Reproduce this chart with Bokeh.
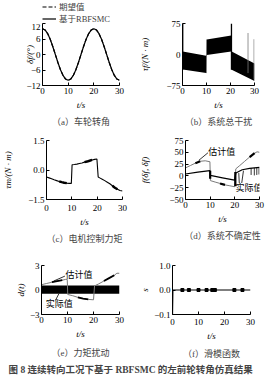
from bokeh.plotting import figure
from bokeh.layouts import column, row
from bokeh.models import Range1d, FixedTicker, Legend
from bokeh.embed import file_html
from bokeh.resources import INLINE
from bokeh.core.properties import value

SERIF = "'Liberation Serif', 'Noto Sans CJK SC'"
CJK = "'Noto Sans CJK SC'"

# ---------------- data ----------------
x_ticks = [0, 10, 20, 30]

# (a) wheel steering angle
t_a = [0, 1, 2, 3, 4, 5, 6, 7, 8, 9, 10, 11, 12, 13, 14, 15, 16, 17, 18, 19, 20,
       21, 22, 23, 24, 25, 26, 27, 28, 29, 30]
delta_ref = [10.0, 9.5, 8.1, 5.9, 3.1, 0.0, -3.1, -5.9, -8.1, -9.5, -10.0, -9.5, -8.1,
             -5.9, -3.1, 0.0, 3.1, 5.9, 8.1, 9.5, 10.0, 9.5, 8.1, 5.9, 3.1, 0.0, -3.1,
             -5.9, -8.1, -9.5, -10.0]
delta_rbf = [10.0, 9.5, 8.1, 5.9, 3.1, 0.0, -3.1, -5.9, -8.1, -9.5, -10.0, -9.5, -8.1,
             -5.9, -3.1, 0.0, 3.1, 5.9, 8.1, 9.5, 10.0, 9.5, 8.1, 5.9, 3.1, 0.0, -3.1,
             -5.9, -8.1, -9.5, -10.0]
a_ticks = [-12, -6, 0, 6, 12]
a_tick_labels = ["−12", "−6", "0", "6", "12"]
legend_labels = ["期望值", "基于RBFSMC"]

# (b) total disturbance (dense oscillation band)
t_b = [0.1, 9.9, 10.1, 20.3, 20.5, 30]
b_upper = [7, -3, 36, 46, 7, -22]
b_lower = [-36, -45, -1, 7, -37, -64]
b_spike_t = [0.1, 20.4]
b_spike_top = [75, 75]
b_spike_bot = [-36, -37]
b_thin_t = [10.0, 27.3, 29.8]
b_thin_top = [36, 52, 37]
b_thin_bot = [-45, -45, -60]
b_ticks = [-75, 0, 75]
b_tick_labels = ["−75", "0", "75"]

# (c) motor control torque
t_c = [0, 1, 2, 3, 4, 5, 6, 7, 8, 9, 9.8, 10.1, 11, 12, 13, 14, 15, 16, 17, 18, 19,
       19.9, 20.4, 21, 22, 23, 24, 25, 26, 27, 28, 29, 30]
tau_m = [-0.36, -0.4, -0.45, -0.5, -0.54, -0.58, -0.62, -0.65, -0.67, -0.68, -0.68,
         0.27, 0.28, 0.3, 0.33, 0.36, 0.4, 0.43, 0.47, 0.51, 0.54, 0.56, -0.36, -0.4,
         -0.47, -0.54, -0.62, -0.7, -0.8, -0.9, -0.98, -1.04, -1.07]
c_ticks = [-1.5, 0, 1.5]
c_tick_labels = ["−1.5", "0.0", "1.5"]

# (d) system uncertainty: estimate and actual
t_d_est = [0, 2, 4, 6, 8, 9.9, 10.1, 12, 14, 16, 18, 19.9, 20.4, 22, 24, 26, 28, 29, 30]
f_est = [17, 22, 27, 31, 32, 30, -10, -13, -16, -19, -21, -23, 15, 22, 31, 40, 48, 51, 50]
t_d_act = [0, 5, 9.9, 10.1, 15, 19.9, 20.4, 23, 26, 30]
f_act = [4, 8, 11, 1, -4, -9, 6, 13, 16, 18]
d_spike_t = [10.0, 20.2]
d_spike_top = [11, 8]
d_spike_bot = [-6, -22]
d_thin_t = [26.6, 27.9, 28.9, 29.8]
d_thin_top = [16.5, 17, 17.5, 18]
d_thin_bot = [2, 1, 2, 3]
d_ticks = [-50, -25, 0, 25, 50, 75]
d_tick_labels = ["−50", "−25", "0", "25", "50", "75"]

# (e) torque disturbance
e_band_t = [0, 30]
e_band_lo = [-0.45, -0.45]
e_band_hi = [0.55, 0.55]
t_e_est = [0, 2, 4, 6, 8, 9.3, 9.9, 10.1, 12, 14, 16, 18, 20, 20.4, 22, 24, 26, 28, 29, 30]
d_est = [0.65, 0.8, 0.95, 1.1, 1.2, 1.3, 1.3, -0.55, -0.7, -0.9, -1.05, -1.15, -1.2,
         0.5, 0.75, 1.1, 1.45, 1.8, 2.05, 2.05]
e_ticks = [-3, 0, 3]
e_tick_labels = ["−3", "0", "3"]

# (f) sliding mode function
t_f = [0, 0.15, 30]
s_val = [-0.1, 0.0, 0.0]
f_dot_t = [3.8, 6.3, 10, 13.1, 15.3, 16.3, 23.8, 26.9]
f_dot_s = [0, 0, 0, 0, 0, 0, 0, 0]
f_ticks = [-0.1, 0, 0.1]
f_tick_labels = ["−0.1", "0.0", "1.0"]

GRAY = "#7a7a7a"


def make_fig(w, h, left, right, top, bottom, yr, yticks, ylabels, ylabel, caption,
             cap_offset, x_stand=2, ylab_stand=2, xlab_stand=3, title_stand=4):
    p = figure(width=w, height=h, x_range=Range1d(0, 30), y_range=Range1d(*yr),
               toolbar_location=None, output_backend="svg",
               min_border_left=left, min_border_right=right,
               min_border_top=top, min_border_bottom=bottom,
               title=caption, title_location="below")
    p.outline_line_color = None
    p.grid.visible = False
    p.background_fill_color = "white"
    p.border_fill_color = "white"
    p.xaxis.ticker = FixedTicker(ticks=x_ticks)
    p.yaxis.ticker = FixedTicker(ticks=yticks)
    p.yaxis.major_label_overrides = {k: v for k, v in zip(yticks, ylabels)}
    for ax in (p.xaxis[0], p.yaxis[0]):
        ax.axis_line_color = "black"
        ax.axis_line_width = 1
        ax.major_tick_in = 3
        ax.major_tick_out = 0
        ax.minor_tick_in = 0
        ax.minor_tick_out = 0
        ax.major_tick_line_color = "black"
        ax.major_label_text_font = SERIF
        ax.major_label_text_font_size = "9px"
        ax.major_label_text_color = "black"
        ax.axis_label_text_font = SERIF
        ax.axis_label_text_font_style = "italic"
        ax.axis_label_text_font_size = "9px"
        ax.axis_label_text_color = "black"
    p.xaxis.axis_label = "t/s"
    p.xaxis.major_label_standoff = x_stand
    p.xaxis.axis_label_standoff = xlab_stand
    p.yaxis.axis_label = ylabel
    p.yaxis.major_label_standoff = 2
    p.yaxis.axis_label_standoff = ylab_stand
    p.title.text_font = SERIF
    p.title.text_font_style = "normal"
    p.title.text_font_size = "9px"
    p.title.align = "center"
    p.title.offset = cap_offset
    p.title.standoff = title_stand
    return p


# legend strip above (a)
pl = figure(width=137, height=23, toolbar_location=None, output_backend="svg",
            min_border_left=42, min_border_right=0, min_border_top=0, min_border_bottom=0,
            x_range=Range1d(0, 30), y_range=Range1d(-12, 12))
pl.axis.visible = False
pl.grid.visible = False
pl.outline_line_color = None
pl.background_fill_color = "white"
pl.border_fill_color = "white"
rl1 = pl.line(t_a, delta_ref, line_color="black", line_width=1.2, line_dash="4 2", visible=False)
rl2 = pl.line(t_a, delta_rbf, line_color="black", line_width=1.2, visible=False)
leg = Legend(items=[(legend_labels[0], [rl1]), (legend_labels[1], [rl2])],
             location="top_left", orientation="vertical", padding=0, spacing=0, margin=0,
             glyph_width=14, glyph_height=11, label_height=11, label_standoff=3,
             border_line_color=None, background_fill_alpha=0, inactive_fill_alpha=0,
             label_text_font=SERIF, label_text_font_size="8.5px")
pl.add_layout(leg)

# (a)
pa = make_fig(137, 105, 42, 18, 0, 42, (-12, 12), a_ticks, a_tick_labels,
              "δf/(°)", "（a）车轮转角", -13, ylab_stand=-12)
pa.line(t_a, delta_ref, line_color="black", line_width=1.2, line_dash="4 2")
pa.line(t_a, delta_rbf, line_color="black", line_width=1.2)

# (b)
pb = make_fig(137, 128, 39, 20, 23, 42, (-75, 75), b_ticks, b_tick_labels,
              "τf/(N · m)", "（b）系统总干扰", -3, ylab_stand=13)
pb.varea(x=t_b, y1=b_lower, y2=b_upper, fill_color="black")
pb.segment(x0=b_spike_t, y0=b_spike_bot, x1=b_spike_t, y1=b_spike_top,
           line_color="black", line_width=1.3)
pb.segment(x0=b_thin_t, y0=b_thin_bot, x1=b_thin_t, y1=b_thin_top,
           line_color=GRAY, line_width=0.8)

# (c)
pc = make_fig(137, 117, 42, 15, 12, 44, (-1.5, 1.5), c_ticks, c_tick_labels,
              "τm/(N · m)", "（c）电机控制力矩", 2, x_stand=5, ylab_stand=12)
pc.line(t_c, tau_m, line_color="black", line_width=1.1)
for lo, hi in ((5, 8), (15, 18), (26, 28)):
    ix = [i for i, t in enumerate(t_c) if lo <= t <= hi]
    pc.line([t_c[i] for i in ix], [tau_m[i] for i in ix], line_color="black", line_width=2.4)

# (d)
pd_ = make_fig(137, 117, 42, 15, 12, 40, (-50, 75), d_ticks, d_tick_labels,
               "f(δf, δ̇f)", "（d）系统不确定性", 3, ylab_stand=16)
pd_.line(t_d_est, f_est, line_color=GRAY, line_width=1)
for lo, hi in ((4, 6), (14, 16), (26, 28)):
    ix = [i for i, t in enumerate(t_d_est) if lo <= t <= hi]
    pd_.line([t_d_est[i] for i in ix], [f_est[i] for i in ix], line_color="black", line_width=2.2)
pd_.line(t_d_act, f_act, line_color="black", line_width=1.2)
pd_.segment(x0=d_spike_t, y0=d_spike_bot, x1=d_spike_t, y1=d_spike_top,
            line_color="black", line_width=2.2)
pd_.segment(x0=d_thin_t, y0=d_thin_bot, x1=d_thin_t, y1=d_thin_top,
            line_color="black", line_width=0.8)
pd_.text(x=[9.2], y=[51], text=["估计值"], text_font=value(CJK), text_font_size="9px",
         text_baseline="middle", text_align="left", text_color="black")
pd_.segment(x0=[9.1], y0=[49], x1=[5.4], y1=[33], line_color="black", line_width=0.8)
pd_.text(x=[20.3], y=[-24], text=["实际值"], text_font=value(CJK), text_font_size="9px",
         text_baseline="middle", text_align="left", text_color="black")
pd_.segment(x0=[21.8, 22.8], y0=[-15, -15], x1=[21.6, 23.5], y1=[6, 11],
            line_color="black", line_width=0.8)

# (e)
pe = make_fig(137, 117, 41, 18, 12, 41, (-3, 3), e_ticks, e_tick_labels,
              "d(t)", "（e）力矩扰动", -8, ylab_stand=1, title_stand=8)
pe.varea(x=e_band_t, y1=e_band_lo, y2=e_band_hi, fill_color="black")
pe.line(t_e_est, d_est, line_color=GRAY, line_width=1)
for lo, hi in ((4, 8), (14, 18), (24, 28)):
    ix = [i for i, t in enumerate(t_e_est) if lo <= t <= hi]
    pe.line([t_e_est[i] for i in ix], [d_est[i] for i in ix], line_color="black", line_width=1.8)
pe.text(x=[9.2], y=[1.85], text=["估计值"], text_font=value(CJK), text_font_size="9px",
        text_baseline="middle", text_align="left", text_color="black")
pe.segment(x0=[9.0], y0=[1.7], x1=[4.7], y1=[1.1], line_color="black", line_width=0.8)
pe.text(x=[1.6], y=[-1.7], text=["实际值"], text_font=value(CJK), text_font_size="9px",
        text_baseline="middle", text_align="left", text_color="black")
pe.segment(x0=[5.4], y0=[-1.25], x1=[6.7], y1=[-0.45], line_color="black", line_width=0.8)

# (f)
pf = make_fig(137, 117, 33, 24, 20, 41, (-0.1, 0.1), f_ticks, f_tick_labels,
              "s", "（f）滑模函数", 1, x_stand=4, ylab_stand=1, title_stand=7)
pf.line(t_f, s_val, line_color="black", line_width=1.2)
pf.scatter(f_dot_t, f_dot_s, marker="square", size=3, color="black")

# caption
pcap = figure(width=274, height=20, toolbar_location=None, output_backend="svg",
              min_border=0, title="图 8   连续转向工况下基于 RBFSMC 的左前轮转角仿真结果",
              title_location="above", x_range=Range1d(0, 1), y_range=Range1d(0, 1))
pcap.axis.visible = False
pcap.grid.visible = False
pcap.outline_line_color = None
pcap.title.text_font = SERIF
pcap.title.text_font_size = "9.5px"
pcap.title.text_font_style = "bold"
pcap.title.align = "left"
pcap.title.offset = 8
pcap.title.standoff = 0

layout = column(row(column(pl, pa), pb), row(pc, pd_), row(pe, pf), pcap)
open("out.html", "w").write(file_html(layout, INLINE))
